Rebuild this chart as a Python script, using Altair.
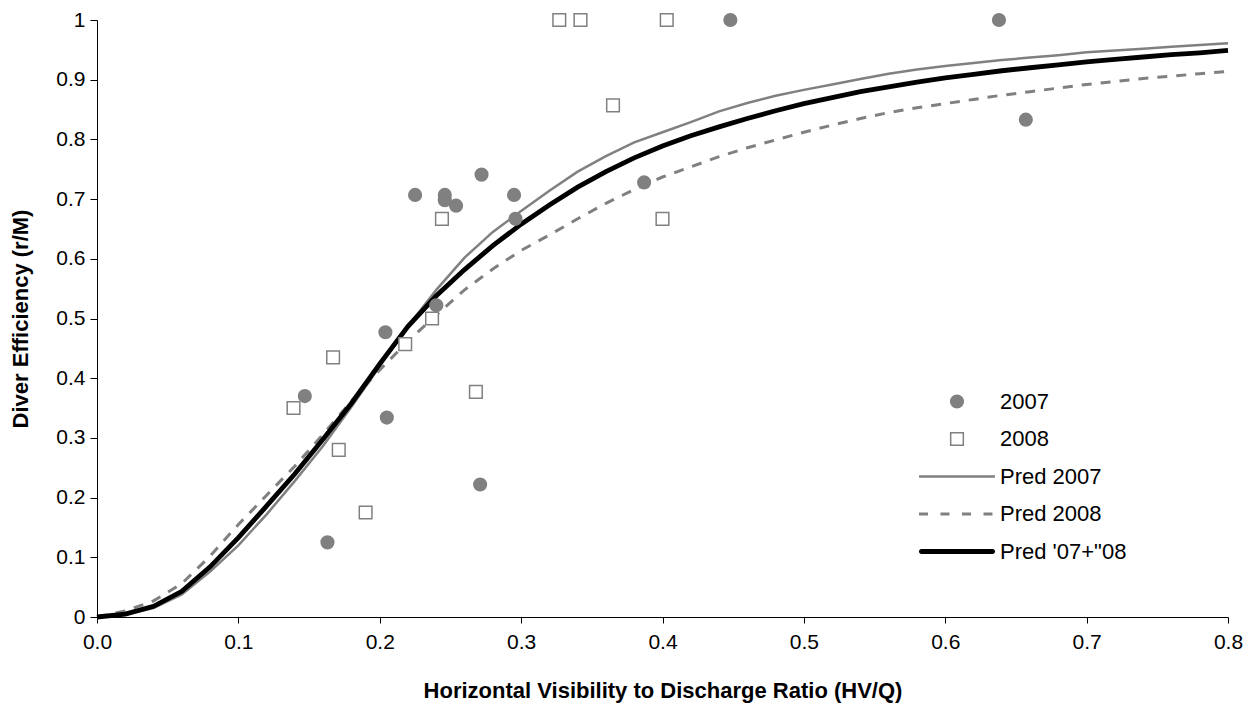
import altair as alt
import pandas as pd

# ---- observed data (2007 = filled circles, 2008 = open squares) ----
x_2007 = [0.147, 0.163, 0.204, 0.205, 0.225, 0.240, 0.246, 0.246, 0.254,
          0.272, 0.271, 0.295, 0.296, 0.387, 0.448, 0.638, 0.657]
y_2007 = [0.370, 0.125, 0.477, 0.334, 0.707, 0.522, 0.707, 0.698, 0.689,
          0.741, 0.222, 0.707, 0.667, 0.728, 1.000, 1.000, 0.833]

x_2008 = [0.139, 0.167, 0.171, 0.190, 0.218, 0.237, 0.244, 0.268, 0.327,
          0.342, 0.365, 0.400, 0.403]
y_2008 = [0.350, 0.435, 0.280, 0.175, 0.457, 0.500, 0.667, 0.377, 1.000,
          1.000, 0.857, 0.667, 1.000]

# ---- predicted curves ----
pred_x = [0.00, 0.02, 0.04, 0.06, 0.08, 0.10, 0.12, 0.14, 0.16, 0.18,
          0.20, 0.22, 0.24, 0.26, 0.28, 0.30, 0.32, 0.34, 0.36, 0.38,
          0.40, 0.42, 0.44, 0.46, 0.48, 0.50, 0.52, 0.54, 0.56, 0.58,
          0.60, 0.62, 0.64, 0.66, 0.68, 0.70, 0.72, 0.74, 0.76, 0.78, 0.80]
pred_2007 = [0.000, 0.004, 0.015, 0.038, 0.076, 0.120, 0.172, 0.228, 0.287, 0.352,
             0.420, 0.487, 0.548, 0.602, 0.645, 0.680, 0.714, 0.746, 0.772, 0.795,
             0.812, 0.829, 0.847, 0.861, 0.873, 0.883, 0.892, 0.901, 0.910, 0.917,
             0.923, 0.928, 0.933, 0.937, 0.941, 0.946, 0.949, 0.952, 0.955, 0.958, 0.961]
pred_2008 = [0.000, 0.010, 0.027, 0.056, 0.102, 0.155, 0.204, 0.253, 0.306, 0.362,
             0.414, 0.462, 0.506, 0.548, 0.583, 0.614, 0.640, 0.667, 0.693, 0.716,
             0.737, 0.754, 0.771, 0.786, 0.799, 0.812, 0.824, 0.835, 0.845, 0.853,
             0.860, 0.867, 0.874, 0.880, 0.886, 0.892, 0.897, 0.902, 0.906, 0.910, 0.914]
pred_both = [0.000, 0.005, 0.018, 0.043, 0.084, 0.133, 0.186, 0.240, 0.298, 0.358,
             0.424, 0.487, 0.538, 0.582, 0.622, 0.658, 0.690, 0.720, 0.746, 0.769,
             0.789, 0.806, 0.821, 0.835, 0.848, 0.860, 0.870, 0.880, 0.888, 0.896,
             0.903, 0.909, 0.915, 0.920, 0.925, 0.930, 0.934, 0.938, 0.942, 0.945, 0.949]

series_names = ["2007", "2008", "Pred 2007", "Pred 2008", "Pred '07+\"08"]
x_ticks = [0.0, 0.1, 0.2, 0.3, 0.4, 0.5, 0.6, 0.7, 0.8]
y_ticks = [0.0, 0.1, 0.2, 0.3, 0.4, 0.5, 0.6, 0.7, 0.8, 0.9, 1.0]

FONT = "Liberation Sans"
GRAY = "#808080"

points_df = pd.DataFrame({
    "x": x_2007 + x_2008,
    "y": y_2007 + y_2008,
    "series": [series_names[0]] * len(x_2007) + [series_names[1]] * len(x_2008),
})
n = len(pred_x)
lines_df = pd.DataFrame({
    "x": pred_x * 3,
    "y": pred_2007 + pred_2008 + pred_both,
    "series": [series_names[2]] * n + [series_names[3]] * n + [series_names[4]] * n,
})

x_enc = alt.X(
    "x:Q",
    scale=alt.Scale(domain=[0, 0.8], nice=False, zero=False),
    axis=alt.Axis(
        values=x_ticks, format=".1f", grid=False, tickSize=6, labelPadding=8,
        labelFlush=False, labelOverlap=False,
        title="Horizontal Visibility to Discharge Ratio (HV/Q)",
        titleY=73, titleBaseline="middle",
    ),
)
y_enc = alt.Y(
    "y:Q",
    scale=alt.Scale(domain=[0, 1], nice=False),
    axis=alt.Axis(
        values=y_ticks, format="~g", grid=False, tickSize=7, labelPadding=5,
        labelOverlap=False, labelFlush=False,
        title="Diver Efficiency (r/M)", titleX=-77, titleBaseline="middle",
    ),
)

# legend symbols for the line entries drawn as custom paths (unit = sqrt(size)/2)
path_solid = "M-6,-0.2H6V0.2H-6Z"
path_dash = ("M-6.01,-0.24H-4.59V0.24H-6.01Z M-2.61,-0.24H-1.19V0.24H-2.61Z "
             "M0.79,-0.24H2.21V0.24H0.79Z M4.19,-0.24H5.61V0.24H4.19Z")
path_thick = "M-5.63,-0.38H5.63A0.38,0.38,0,0,1,5.63,0.38H-5.63A0.38,0.38,0,0,1,-5.63,-0.38Z"

legend = alt.Legend(
    title=None, orient="none", legendX=849, legendY=370.5, padding=0,
    symbolSize=160, symbolStrokeWidth=1.5, symbolFillColor=GRAY,
    symbolStrokeColor=GRAY, symbolOpacity=1,
    labelFont=FONT, labelFontSize=22, labelColor="black",
    labelOffset=32, rowPadding=15.5, labelLimit=0,
)

points = alt.Chart(points_df).mark_point(size=160, opacity=1, strokeWidth=1.5).encode(
    x=x_enc,
    y=y_enc,
    shape=alt.Shape("series:N", scale=alt.Scale(
        domain=series_names,
        range=["circle", "square", path_solid, path_dash, path_thick]), legend=legend),
    fill=alt.Fill("series:N", scale=alt.Scale(
        domain=series_names,
        range=[GRAY, "#ffffff", GRAY, GRAY, "#000000"]), legend=legend),
    stroke=alt.Stroke("series:N", scale=alt.Scale(
        domain=series_names,
        range=[GRAY, GRAY, "transparent", "transparent", "transparent"]), legend=legend),
)

base = alt.Chart(lines_df)
line07 = base.transform_filter(alt.datum.series == series_names[2]).mark_line(
    stroke=GRAY, strokeWidth=2.5).encode(x=x_enc, y=y_enc)
line08 = base.transform_filter(alt.datum.series == series_names[3]).mark_line(
    stroke=GRAY, strokeWidth=3, strokeDash=[10, 9]).encode(x=x_enc, y=y_enc)
line_all = base.transform_filter(alt.datum.series == series_names[4]).mark_line(
    stroke="#000000", strokeWidth=4.8).encode(x=x_enc, y=y_enc)

chart = alt.layer(line07, line08, line_all, points).properties(
    width=1131, height=597,
    padding={"left": 97, "top": 20, "right": 19, "bottom": 92},
    autosize=alt.AutoSizeParams(type="none"),
    background="white",
).configure_view(stroke="transparent").configure_axis(
    domainColor="black", tickColor="black", labelColor="black", titleColor="black",
    labelFont=FONT, titleFont=FONT, labelFontSize=21, titleFontSize=22,
    titleFontWeight="bold", domainWidth=1, tickWidth=1,
)

chart.save("out.html", embed_options={"renderer": "svg", "actions": False})
